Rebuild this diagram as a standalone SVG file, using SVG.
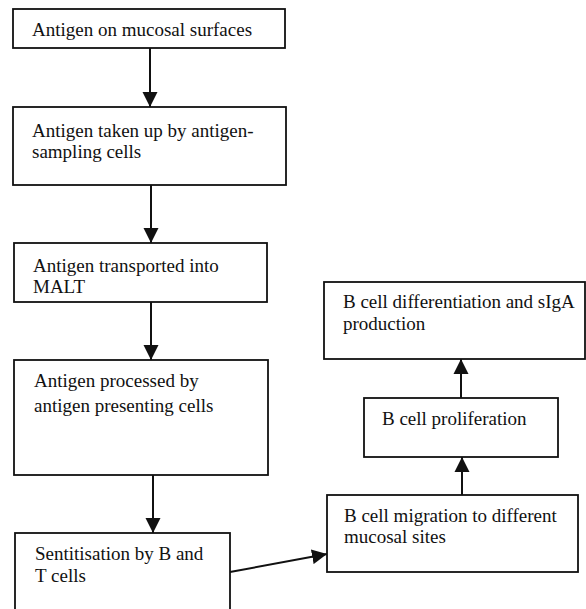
<svg xmlns="http://www.w3.org/2000/svg" width="586" height="609" viewBox="0 0 586 609">
<style>
.box{fill:#fff;stroke:#111;stroke-width:1.8}
.t{font-family:'Liberation Serif','Times New Roman','DejaVu Serif',serif;font-size:19px;fill:#111}
.c{stroke:#111;stroke-width:2;fill:none;marker-end:url(#ah)}
</style>
<defs>
<marker id="ah" markerUnits="userSpaceOnUse" markerWidth="16" markerHeight="16" viewBox="0 0 16 16" refX="15" refY="8" orient="auto">
<path d="M0,0.5 L15,8 L0,15.5 Z" fill="#111"/>
</marker>
</defs>
<rect width="586" height="609" fill="#fff"/>
<g id="connectors">
<line class="c" x1="150" y1="48" x2="150" y2="107"/>
<line class="c" x1="151" y1="185" x2="151" y2="243"/>
<line class="c" x1="151" y1="302" x2="151" y2="360"/>
<line class="c" x1="153" y1="475" x2="153" y2="533"/>
<line class="c" x1="230" y1="572" x2="327" y2="554"/>
<line class="c" x1="462" y1="495" x2="462" y2="457"/>
<line class="c" x1="461" y1="398" x2="461" y2="359"/>
</g>
<g id="n1"><rect class="box" x="13" y="9" width="272" height="39"/><text class="t" x="32" y="36">Antigen on mucosal surfaces</text></g>
<g id="n2"><rect class="box" x="13" y="107" width="273" height="78"/><text class="t" x="32" y="137">Antigen taken up by antigen-</text><text class="t" x="32" y="158">sampling cells</text></g>
<g id="n3"><rect class="box" x="14" y="243" width="253" height="59"/><text class="t" x="33" y="272">Antigen transported into</text><text class="t" x="33" y="293">MALT</text></g>
<g id="n4"><rect class="box" x="14" y="360" width="254" height="115"/><text class="t" x="34" y="387">Antigen processed by</text><text class="t" x="34" y="412">antigen presenting cells</text></g>
<g id="n5"><rect class="box" x="15" y="533" width="215" height="90"/><text class="t" x="35" y="560">Sentitisation by B and</text><text class="t" x="35" y="582">T cells</text></g>
<g id="n6"><rect class="box" x="327" y="495" width="251" height="77"/><text class="t" x="344" y="522">B cell migration to different</text><text class="t" x="344" y="543">mucosal sites</text></g>
<g id="n7"><rect class="box" x="364" y="398" width="194" height="59"/><text class="t" x="382" y="425">B cell proliferation</text></g>
<g id="n8"><rect class="box" x="324" y="282" width="261" height="77"/><text class="t" x="343" y="308">B cell differentiation and sIgA</text><text class="t" x="343" y="330">production</text></g>
</svg>
